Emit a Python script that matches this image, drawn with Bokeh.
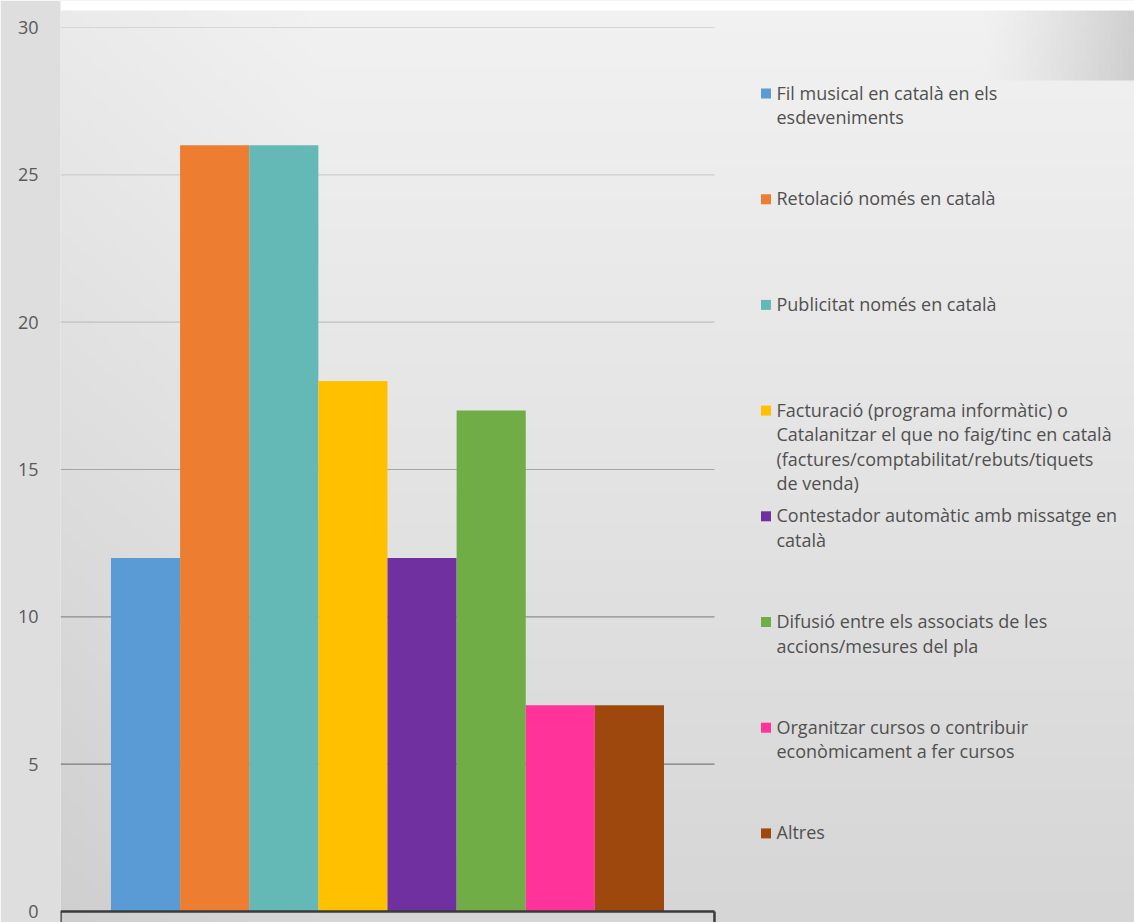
import numpy as np
from bokeh.plotting import figure
from bokeh.models import Range1d, FixedTicker
from bokeh.embed import file_html
from bokeh.resources import INLINE
from bokeh.core.properties import value

# ---------------- data ----------------
categories = [
    "Fil musical en català en els\nesdeveniments",
    "Retolació només en català",
    "Publicitat només en català",
    "Facturació (programa informàtic) o\nCatalanitzar el que no faig/tinc en català\n(factures/comptabilitat/rebuts/tiquets\nde venda)",
    "Contestador automàtic amb missatge en\ncatalà",
    "Difusió entre els associats de les\naccions/mesures del pla",
    "Organitzar cursos o contribuir\neconòmicament a fer cursos",
    "Altres",
]
values = [12, 26, 26, 18, 12, 17, 7, 7]
colors = ["#5b9bd5", "#ed7d31", "#64b9b6", "#ffc000", "#7030a0", "#70ad47", "#ff3399", "#9e480e"]
y_ticks = [0, 5, 10, 15, 20, 25, 30]

# ---------------- layout ----------------
W, H = 1134, 922
LEFT = 60
frame_w = W - LEFT
px_per_x = 69.13
px_per_y = 29.467
x_lo = -0.73
x_hi = len(values) + 0.73
y_start = -(H - 911) / px_per_y

p = figure(
    width=W, height=H,
    x_range=Range1d(x_lo, x_lo + frame_w / px_per_x),
    y_range=Range1d(y_start, y_start + H / px_per_y),
    x_axis_location=None, y_axis_location="left",
    min_border_left=LEFT, min_border_right=0, min_border_top=0, min_border_bottom=0,
    output_backend="svg", toolbar_location=None,
)
p.outline_line_color = None
p.border_fill_color = "#dedede"
p.background_fill_color = "#e4e4e4"
p.ygrid.grid_line_color = None
p.xgrid.grid_line_color = None

# pixel-space ranges (x measured from figure left, y measured from bottom)
p.extra_x_ranges = {"px": Range1d(LEFT, W)}
p.extra_y_ranges = {"px": Range1d(0, H)}

# background gradient
ny, nx = 461, 179
t = 1 - (np.arange(ny) + 0.5) / ny          # 0 at top, 1 at bottom
xs = LEFT + (np.arange(nx) + 0.5) / nx * frame_w
T, X = np.meshgrid(t, xs, indexing="ij")
fy = T * H
g = 242 - 28 * T - 7 * np.clip(1 - (X - LEFT) / 260, 0, 1)
patch = (fy < 80) & (X > 980)
g = np.where(patch, g - 34 * np.clip((X - 980) / 154, 0, 1) ** 1.3, g)
g = np.where(fy < 10, 255, g)
g = np.clip(g, 0, 255).astype(np.uint8)
img = np.empty((ny, nx), dtype=np.uint32)
view = img.view(dtype=np.uint8).reshape((ny, nx, 4))
view[..., 0] = g
view[..., 1] = g
view[..., 2] = g
view[..., 3] = 255
p.image_rgba(image=[img], x=LEFT, y=0, dw=frame_w, dh=H,
             x_range_name="px", y_range_name="px")

# gridlines
grid_ticks = [v for v in y_ticks if v > 0]
grid_colors = ["#7a7a7a", "#8c8c8c", "#a6a6a6", "#c0c0c0", "#cdcdcd", "#d6d6d6"]
p.segment(x0=[x_lo] * len(grid_ticks), x1=[x_hi] * len(grid_ticks),
          y0=grid_ticks, y1=grid_ticks, line_color=grid_colors, line_width=1.2)

# bars
idx = np.arange(len(values))
p.quad(left=idx, right=idx + 1, bottom=0, top=values,
       fill_color=colors, line_color=None)

# baseline axis
p.segment(x0=[x_lo], y0=[0], x1=[x_hi], y1=[0], line_color="#3a3a3a", line_width=2.5)
p.segment(x0=[x_lo, x_hi], y0=[0, 0], x1=[x_lo, x_hi], y1=[y_start, y_start],
          line_color="#3a3a3a", line_width=2.5)

# y axis
ax = p.yaxis[0]
ax.ticker = FixedTicker(ticks=y_ticks)
ax.axis_line_color = None
ax.major_tick_line_color = None
ax.minor_tick_line_color = None
ax.major_tick_in = 0
ax.major_tick_out = 0
ax.major_label_standoff = 22
ax.major_label_text_font = "Open Sans"
ax.major_label_text_font_size = "18px"
ax.major_label_text_color = "#595959"

# legend (manual, pixel space)
first_y = 93.0
step = 105.7
line_gap = 24.5
sq_x = 765.5
txt_x = 776.0
sq_y, lx, ly, lt = [], [], [], []
for i, lab in enumerate(categories):
    yc = first_y + i * step
    sq_y.append(H - yc)
    for j, line in enumerate(lab.split("\n")):
        lx.append(txt_x)
        ly.append(H - (yc + j * line_gap) + 1)
        lt.append(line)
p.rect(x=[sq_x] * len(categories), y=sq_y, width=10, height=10,
       fill_color=colors, line_color=None, x_range_name="px", y_range_name="px")
p.text(x=lx, y=ly, text=lt, text_baseline="middle", text_align="left",
       text_font=value("Open Sans"), text_font_size="18px", text_color="#505050",
       x_range_name="px", y_range_name="px")

open("out.html", "w").write(file_html(p, INLINE))
